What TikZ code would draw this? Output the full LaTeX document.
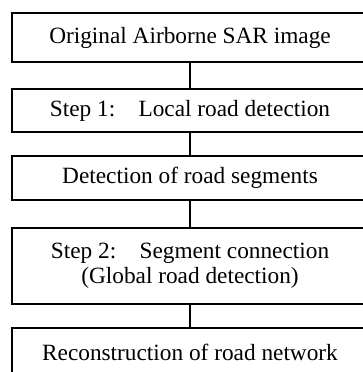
\documentclass[tikz,border=0pt]{standalone}
\usepackage{fontspec}
\setmainfont{Liberation Serif}

\begin{document}
\begin{tikzpicture}[x=1pt,y=-1pt,
  stage/.style={draw,line width=1.2pt,minimum width=356pt,inner sep=0pt,align=center,
    font=\fontsize{23.3}{25}\selectfont},
  link/.style={line width=1.2pt}]
\useasboundingbox (0,0) rectangle (363,372);
\clip (0,0) rectangle (363,372);

\node[stage,minimum height=49pt] (sar) at (190,37.5) {Original Airborne SAR image};
\node[stage,minimum height=43pt] (step1) at (190,110.5) {Step 1:\quad Local road detection};
\node[stage,minimum height=44pt] (segs) at (190,178) {Detection of road segments};
\node[stage,minimum height=76pt] (step2) at (190,266) {Step 2:\quad Segment connection\\(Global road detection)};
\node[stage,minimum height=48pt] (recon) at (190,352) {Reconstruction of road network};

\draw[link] (sar) -- (step1);
\draw[link] (step1) -- (segs);
\draw[link] (segs) -- (step2);
\draw[link] (step2) -- (recon);
\end{tikzpicture}
\end{document}
